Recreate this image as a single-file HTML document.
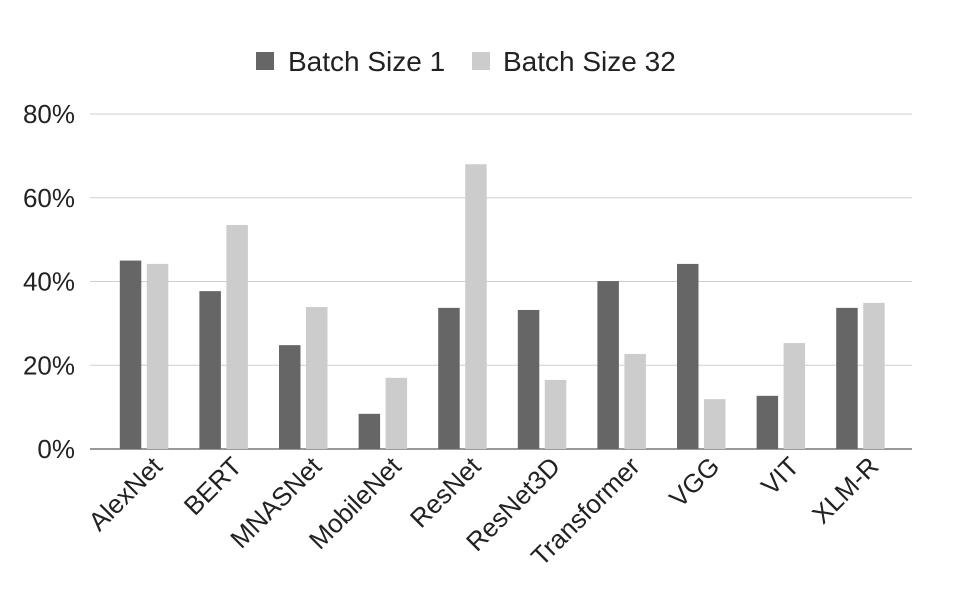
<!DOCTYPE html>
<html><head><meta charset="utf-8"><style>
body{margin:0;background:#fff;font-family:"Liberation Sans",Arial,sans-serif;}
</style></head><body>
<svg id="chart" width="966" height="598" xmlns="http://www.w3.org/2000/svg" font-family="Liberation Sans, Arial, sans-serif"></svg>
<script>
const categories=["AlexNet","BERT","MNASNet","MobileNet","ResNet","ResNet3D","Transformer","VGG","VIT","XLM-R"];
const batch1=[45,37.7,24.8,8.4,33.7,33.2,40.1,44.2,12.7,33.7];
const batch32=[44.2,53.5,33.9,17,68,16.5,22.7,11.9,25.3,34.9];
const yTicks=[0,20,40,60,80];
const seriesNames=["Batch Size 1","Batch Size 32"];
const colors=["#666666","#cccccc"];
const svg=document.getElementById('chart');
const NS='http://www.w3.org/2000/svg';
function mk(t,a,p){const e=document.createElementNS(NS,t);for(const k in a)e.setAttribute(k,a[k]);(p||svg).appendChild(e);return e;}
const y=v=>449-v*(449-114)/80;
const x0=104,band=79.6;
const xc=i=>x0+band*(i+0.5);
yTicks.forEach(t=>{
 const g=mk('line',{x1:90,x2:912,y1:y(t),y2:y(t),stroke:t===0?'#333':'#cfcfcf','stroke-width':1});
 
 
 const l=mk('text',{x:75,y:y(t)+9,'text-anchor':'end','font-size':26,fill:'#222'});
 l.textContent=t+'%';
 
 
});
categories.forEach((c,i)=>{
 [batch1,batch32].forEach((arr,s)=>{
  const bx=s===0?xc(i)-24:xc(i)+3;
  const r=mk('rect',{x:bx,y:y(arr[i]),width:21.5,height:y(0)-y(arr[i]),fill:colors[s]});
  
  
 });
 const t=mk('text',{x:0,y:0,'text-anchor':'end','font-size':26,fill:'#222',transform:`translate(${xc(i)+20},${468}) rotate(-45)`});
 t.textContent=c;
 
 
});
const lx=[256,472],tx=[288,503];
seriesNames.forEach((n,s)=>{
 const r=mk('rect',{x:lx[s],y:52,width:18,height:18,fill:colors[s]});
 
 
 const t=mk('text',{x:tx[s],y:71,'font-size':28,fill:'#222'});
 t.textContent=n;
 
 
});
</script>
</body></html>
